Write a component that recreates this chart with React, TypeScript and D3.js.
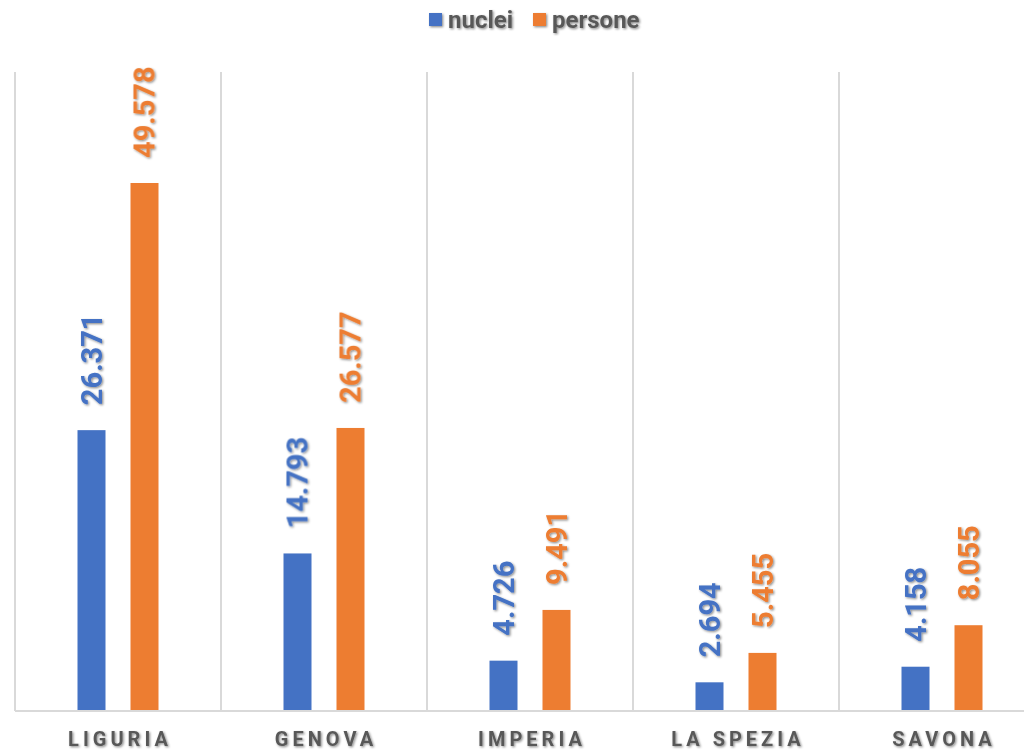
import React from "react";
import * as d3 from "d3";

const categories = ["LIGURIA", "GENOVA", "IMPERIA", "LA SPEZIA", "SAVONA"];
const nuclei = [26371, 14793, 4726, 2694, 4158];
const persone = [49578, 26577, 9491, 5455, 8055];
const seriesNames = ["nuclei", "persone"];
const yMax = 60000;

const W = 1024;
const H = 751;
const colors = ["#4472C4", "#ED7D31"];
const FONT = "Roboto, 'DejaVu Sans', sans-serif";

const itFormat = d3
  .formatLocale({ decimal: ",", thousands: ".", grouping: [3], currency: ["", "€"] })
  .format(",d");

export default function App() {
  const left = 15;
  const right = 1045;
  const top = 72;
  const bottom = 711;

  const x = d3.scaleBand<string>().domain(categories).range([left, right]).padding(0);
  const barW = 28;
  const gap = 25;
  const groupW = barW * 2 + gap;
  const y = d3.scaleLinear().domain([0, yMax]).range([bottom, top]);

  const series = [nuclei, persone];

  return (
    <div>
      <style>{"body{margin:0}"}</style>
      <svg width={W} height={H} style={{ display: "block" }}>
        <defs>
          <filter id="sh" x="-20%" y="-20%" width="140%" height="140%">
            <feDropShadow dx="1.2" dy="1.2" stdDeviation="0.9" floodColor="#000" floodOpacity="0.45" />
          </filter>
        </defs>
        <rect width={W} height={H} fill="#fff" />
        {categories.map((c) => (
          <line
            key={c}
            x1={x(c)!}
            x2={x(c)!}
            y1={top}
            y2={bottom}
            stroke="#d9d9d9"
            strokeWidth={2}
          />
        ))}
        {categories.map((c, i) => {
          const start = x(c)! + (x.bandwidth() - groupW) / 2;
          return series.map((s, k) => {
            const bx = start + k * (barW + gap);
            return (
              <rect
                key={c + k}
                x={bx}
                y={y(s[i])}
                width={barW}
                height={bottom - y(s[i])}
                fill={colors[k]}
              />
            );
          });
        })}
        <line x1={left} x2={W} y1={bottom} y2={bottom} stroke="#d9d9d9" strokeWidth={2} />
        <g filter="url(#sh)">
          {categories.map((c, i) => {
            const start = x(c)! + (x.bandwidth() - groupW) / 2;
            return series.map((s, k) => {
              const cx = start + k * (barW + gap) + barW / 2;
              const ty = y(s[i]) - 25;
              return (
                <text
                  key={c + "l" + k}
                  transform={`translate(${cx},${ty}) rotate(-90)`}
                  dy="0.36em"
                  textAnchor="start"
                  fontFamily={FONT}
                  fontWeight="bold"
                  fontSize={29}
                  fill={colors[k]}
                >
                  {itFormat(s[i])}
                </text>
              );
            });
          })}
        </g>
        <g filter="url(#sh)">
          {categories.map((c) => (
            <text
              key={c + "cat"}
              x={x(c)! + x.bandwidth() / 2 + 2}
              y={746}
              textAnchor="middle"
              fontFamily={FONT}
              fontWeight="bold"
              fontSize={20}
              letterSpacing={4}
              fill="#595959"
            >
              {c}
            </text>
          ))}
        </g>
        <g filter="url(#sh)">
          <rect x={429} y={13} width={13} height={13} fill={colors[0]} />
          <text x={448} y={28} fontFamily={FONT} fontWeight="bold" fontSize={24} fill="#595959">
            {seriesNames[0]}
          </text>
          <rect x={533} y={13} width={13} height={13} fill={colors[1]} />
          <text x={552} y={28} fontFamily={FONT} fontWeight="bold" fontSize={24} fill="#595959">
            {seriesNames[1]}
          </text>
        </g>
      </svg>
    </div>
  );
}
